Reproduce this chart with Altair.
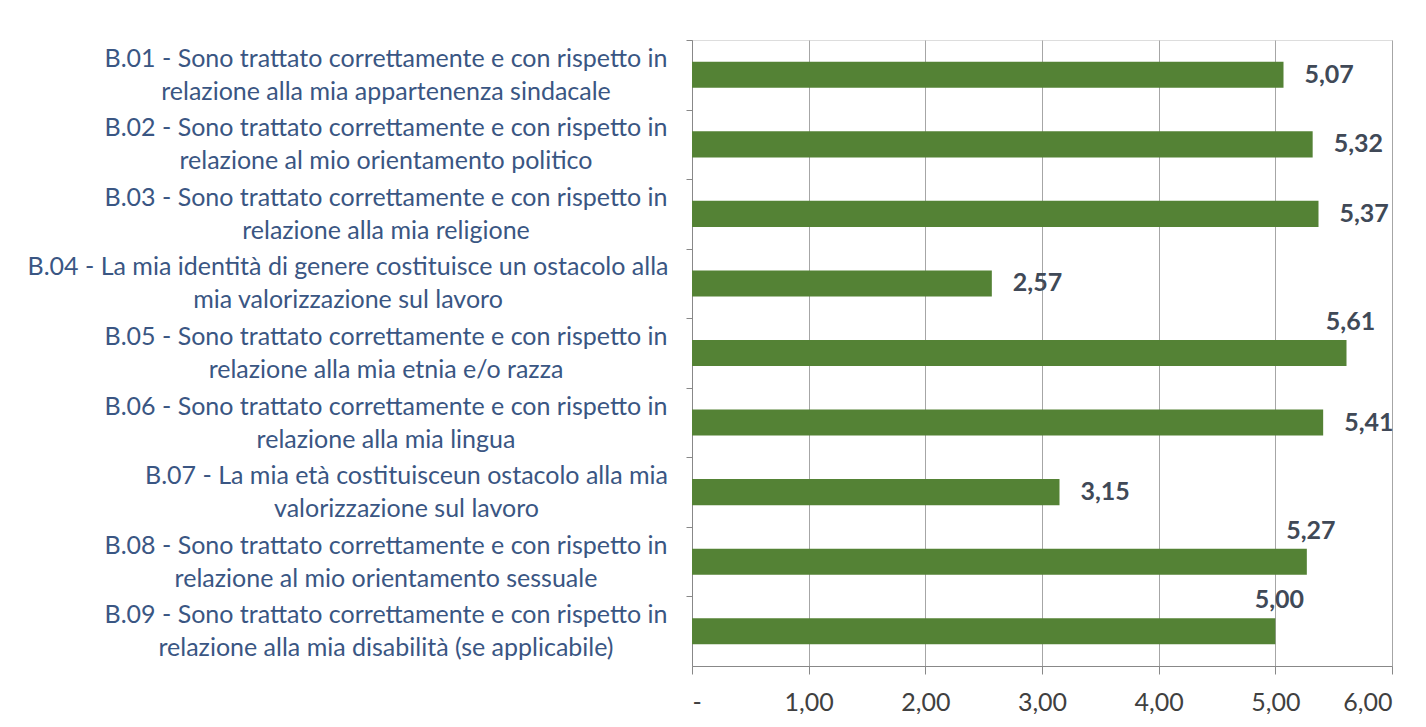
import altair as alt
import pandas as pd

codes = ["B.01", "B.02", "B.03", "B.04", "B.05", "B.06", "B.07", "B.08", "B.09"]
line1 = [
    "B.01 - Sono trattato correttamente e con rispetto in",
    "B.02 - Sono trattato correttamente e con rispetto in",
    "B.03 - Sono trattato correttamente e con rispetto in",
    "B.04 - La mia identità di genere costituisce un ostacolo alla",
    "B.05 - Sono trattato correttamente e con rispetto in",
    "B.06 - Sono trattato correttamente e con rispetto in",
    "B.07 - La mia età costituisceun ostacolo alla mia",
    "B.08 - Sono trattato correttamente e con rispetto in",
    "B.09 - Sono trattato correttamente e con rispetto in",
]
line2 = [
    "relazione alla mia appartenenza sindacale",
    "relazione al mio orientamento politico",
    "relazione alla mia religione",
    "mia valorizzazione sul lavoro",
    "relazione alla mia etnia e/o razza",
    "relazione alla mia lingua",
    "valorizzazione sul lavoro",
    "relazione al mio orientamento sessuale",
    "relazione alla mia disabilità (se applicabile)",
]
values = [5.07, 5.32, 5.37, 2.57, 5.61, 5.41, 3.15, 5.27, 5.00]
label_placement = ["right", "right", "right", "right", "above", "right", "right", "above", "above"]

cats = [a + "\n" + b for a, b in zip(line1, line2)]
df = pd.DataFrame({"cat": cats, "value": values, "place": label_placement})

FONT = "Lato"
BAR = "#548235"
CAT_COLOR = "#3A5683"
VAL_COLOR = "#404957"
GRID = "#A6A6A6"

H = 626
STEP = H / len(cats)
LINE_H = 33

# approximate rendered widths (px) of the first label line, used to centre the
# second line under the first while keeping the first line's right edge aligned
FIRST_LINE_W_DEFAULT = 563
FIRST_LINE_W = {"B.04": 639, "B.07": 522}
GAP = 19

label_padding = {
    "condition": [
        {"test": f"indexof(datum.value, '{k}') == 0", "value": GAP + w / 2}
        for k, w in FIRST_LINE_W.items()
    ],
    "value": GAP + FIRST_LINE_W_DEFAULT / 2,
}

y_enc = alt.Y(
    "cat:N",
    sort=cats,
    title=None,
    scale=alt.Scale(paddingInner=0.625, paddingOuter=0.3125),
    axis=alt.Axis(
        labelExpr="split(datum.value, '\\n')",
        labelFont=FONT,
        labelFontSize=25,
        labelColor=CAT_COLOR,
        labelLineHeight=LINE_H,
        labelAlign="center",
        labelBaseline="middle",
        labelPadding=label_padding,
        labelLimit=900,
        tickOffset=-STEP / 2,
        labelOffset=STEP / 2 - LINE_H / 2,
        tickSize=6,
        tickColor="#888888",
        domainColor="#888888",
        grid=False,
    ),
)

x_enc = alt.X(
    "value:Q",
    title=None,
    scale=alt.Scale(domain=[0, 6], nice=False),
    axis=alt.Axis(
        values=[0, 1, 2, 3, 4, 5, 6],
        labelExpr="datum.value == 0 ? '-' : replace(format(datum.value, '.2f'), '.', ',')",
        labelFont=FONT,
        labelFontSize=25,
        labelColor="#404040",
        labelPadding=16,
        tickSize=8,
        tickColor="#888888",
        domainColor="#888888",
        grid=True,
        gridColor=GRID,
        gridWidth=1,
    ),
)

base = alt.Chart(df)

bars = base.mark_bar(color=BAR).encode(x=x_enc, y=y_enc)

fmt = "replace(format(datum.value, '.2f'), '.', ',')"

text_right = (
    base.transform_filter("datum.place == 'right'")
    .transform_calculate(lbl=fmt)
    .mark_text(align="left", baseline="middle", dx=21, font=FONT, fontSize=25, fontWeight="bold", color=VAL_COLOR)
    .encode(x="value:Q", y=alt.Y("cat:N", sort=cats), text="lbl:N")
)

text_above = (
    base.transform_filter("datum.place == 'above'")
    .transform_calculate(lbl=fmt)
    .mark_text(align="center", baseline="middle", dx=4, dy=-31, font=FONT, fontSize=25, fontWeight="bold", color=VAL_COLOR)
    .encode(x="value:Q", y=alt.Y("cat:N", sort=cats), text="lbl:N")
)

chart = (
    alt.layer(bars, text_right, text_above)
    .properties(
        width=700,
        height=H,
        autosize=alt.AutoSizeParams(type="none"),
        padding={"left": 684, "top": 32, "right": 24, "bottom": 48},
    )
    .configure_view(stroke=None)
    .configure(background="white")
)

chart.save("out.html", embed_options={"renderer": "svg", "actions": False})
